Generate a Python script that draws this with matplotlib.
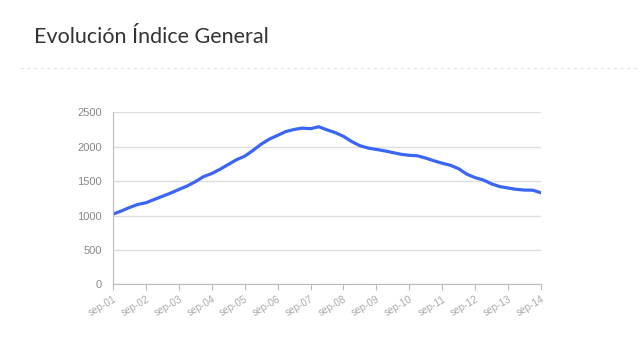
import numpy as np
import pandas as pd
import matplotlib.pyplot as plt
from matplotlib.lines import Line2D

# quarterly readings, sep-01 .. sep-14
fechas = pd.date_range('2001-09-01', '2014-09-01', freq='3MS')
indice = [1020, 1065, 1115, 1160, 1185, 1232, 1278, 1325, 1378, 1428,
          1490, 1565, 1610, 1672, 1740, 1810, 1862, 1945, 2035, 2110,
          2165, 2220, 2250, 2270, 2262, 2290, 2245, 2205, 2150, 2075,
          2015, 1980, 1960, 1940, 1915, 1890, 1875, 1868, 1835, 1795,
          1760, 1730, 1680, 1600, 1550, 1516, 1460, 1420, 1400, 1380,
          1370, 1368, 1330]
ticks = pd.date_range('2001-09-01', '2014-09-01', freq='12MS')
tick_labels = ['sep-%02d' % (d.year % 100) for d in ticks]
yticks = [0, 500, 1000, 1500, 2000, 2500]

plt.rcParams['font.family'] = ['Liberation Sans', 'DejaVu Sans']

fig = plt.figure(figsize=(6.4, 3.53), dpi=100)
fig.patch.set_facecolor('white')

fig.text(34 / 640, 1 - 37 / 353, 'Evolución Índice General',
         family=['Lato', 'DejaVu Sans'], fontsize=15.5,
         color='#333333', va='center', ha='left')
fig.add_artist(Line2D([20 / 640, 1], [1 - 68 / 353] * 2, transform=fig.transFigure,
                      color='#e2e2e2', lw=0.8, ls=(0, (3, 3))))

ax = fig.add_axes([113 / 640, 1 - 284.3 / 353, 428 / 640, 172 / 353])
ax.plot(fechas, indice, color='#3b66f5', lw=2.3, solid_capstyle='round')

ax.set_xlim(ticks[0], ticks[-1])
ax.set_ylim(0, 2500)
ax.set_yticks(yticks)
ax.set_yticklabels([str(v) for v in yticks])
ax.set_xticks(ticks)
ax.set_xticklabels(tick_labels, rotation=30, ha='right', rotation_mode='anchor')

ax.grid(axis='y', color='#dddddd', lw=1)
ax.set_axisbelow(True)
for s in ['top', 'right']:
    ax.spines[s].set_visible(False)
for s in ['left', 'bottom']:
    ax.spines[s].set_color('#bbbbbb')
ax.tick_params(axis='y', length=0, pad=8, labelsize=8, labelcolor='#888888')
ax.tick_params(axis='x', length=4, color='#bbbbbb', pad=3, labelsize=7.2,
               labelcolor='#aaaaaa')

fig.savefig('out.png', dpi=100)
